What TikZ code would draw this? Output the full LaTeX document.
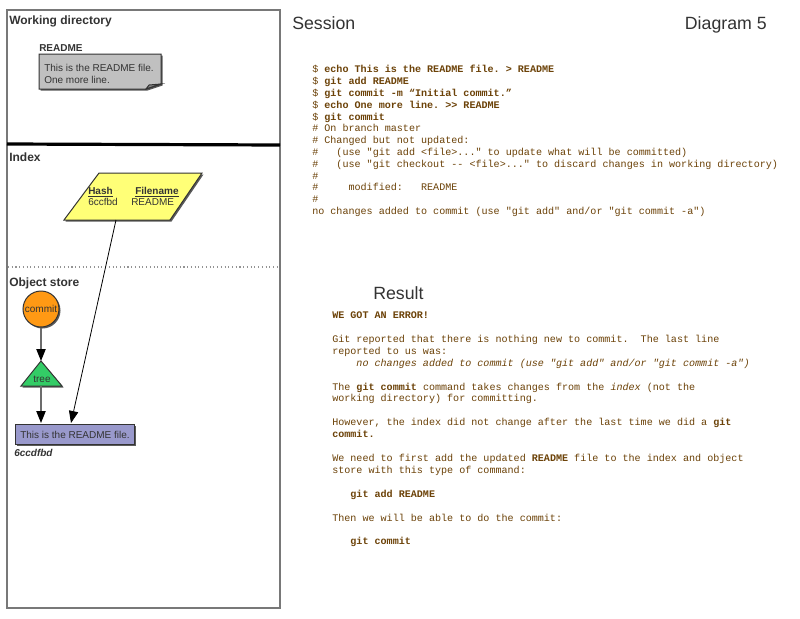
\documentclass[tikz,border=0pt]{standalone}
\usepackage{fontspec}
\setmainfont{Liberation Sans}
\setmonofont{Liberation Mono}
\usetikzlibrary{arrows.meta}
\definecolor{brn}{RGB}{108,66,8}
\definecolor{lbl}{RGB}{51,51,51}
\definecolor{panelgray}{RGB}{120,120,120}
\definecolor{notefill}{RGB}{192,192,192}
\definecolor{idxfill}{RGB}{255,255,119}
\definecolor{comfill}{RGB}{255,153,20}
\definecolor{treefill}{RGB}{51,204,102}
\definecolor{blobfill}{RGB}{153,153,204}
\definecolor{shadowgray}{RGB}{90,90,90}
\frenchspacing
\begin{document}
\begin{tikzpicture}[x=0.75pt,y=-0.75pt,
  hdr/.style={font=\fontsize{9}{11}\selectfont\bfseries, text=lbl, inner sep=0pt, anchor=base west},
  small/.style={font=\fontsize{7.5}{9}\selectfont, text=lbl, inner sep=0pt},
  title/.style={font=\fontsize{13.3}{16}\selectfont, text=lbl, inner sep=0pt},
  mono/.style={font=\fontsize{7.56}{8.87}\selectfont\ttfamily, text=brn, inner sep=0pt, align=left, anchor=north west},
  outl/.style={draw=lbl, line width=0.75pt},
  arr/.style={-{Triangle[length=9pt,width=7pt,color=black]}, line width=0.9pt}
]
\useasboundingbox (0,0) rectangle (800,618);
\fill[white] (0,0) rectangle (800,618);

% left panel
\draw[panelgray, line width=1.5pt] (7,10) rectangle (280,608);
\draw[black, line width=2.4pt] (7,144) -- (280,145);
\draw[panelgray!80, dotted, line width=0.8pt] (8,267) -- (279,267);

\node[hdr] (wdlabel) at (9,24) {Working directory};
\node[hdr] (idxlabel) at (9,161) {Index};
\node[hdr] (oslabel) at (9,286) {Object store};

% README note
\node[small, font=\fontsize{7.5}{9}\selectfont\bfseries, anchor=base west] (notelabel) at (39,51.5) {README};
\fill[shadowgray] (40.5,55.5) -- (162.5,55.5) -- (162.5,85.5) -- (147.5,90.5) -- (40.5,90.5) -- cycle;
\draw[outl, fill=notefill] (39,54) -- (161,54) -- (161,84) -- (146,89) -- (39,89) -- cycle;
\draw[outl, fill=notefill!70!black] (146,89) -- (149,85) -- (161,84) -- cycle;
\node[small, anchor=base west] (note1) at (44,71.5) {This is the README file.};
\node[small, anchor=base west] (note2) at (44,83) {One more line.};

% index parallelogram
\fill[shadowgray] (100.5,174.5) -- (203.5,174.5) -- (171.5,221.5) -- (65.5,221.5) -- cycle;
\draw[outl, fill=idxfill] (99,173) -- (202,173) -- (170,220) -- (64,220) -- cycle;
\coordinate (idxbot) at (116,220);
\node[small, font=\fontsize{7.5}{9}\selectfont\bfseries, anchor=base west] (hash) at (88,194.5) {\underline{Hash}};
\node[small, font=\fontsize{7.5}{9}\selectfont\bfseries, anchor=base west] (fname) at (135,194.5) {\underline{Filename}};
\node[small, anchor=base west] (hashv) at (88,205.5) {6ccfbd};
\node[small, anchor=base west] (fnamev) at (131,205.5) {README};

% commit circle
\fill[shadowgray] (42.5,310.5) circle (18);
\node[circle, outl, fill=comfill, minimum size=27pt, inner sep=0pt, small] (commit) at (41,309) {commit};

% tree triangle
\fill[shadowgray] (42.5,362.5) -- (63.5,387.5) -- (22.5,387.5) -- cycle;
\draw[outl, fill=treefill] (41,361) -- (62,386) -- (21,386) -- cycle;
\coordinate (treetop) at (41,361);
\coordinate (treebot) at (41,386);
\node[small] (tree) at (42,379.5) {tree};

% blob
\fill[shadowgray] (16.5,425.5) rectangle (135.5,445.5);
\node[outl, fill=blobfill, minimum width=89.25pt, minimum height=15pt, inner sep=0pt, anchor=north west, small, text=lbl] (blob) at (15,424) {This is the README file.};
\coordinate (blobtip) at (71,423);
\coordinate (blobtop) at (41,423);
\node[small, font=\fontsize{7.5}{9}\selectfont\bfseries\itshape, anchor=base west] (blobhash) at (14,456.5) {6ccdfbd};

% connectors
\draw[arr, draw=panelgray!90!black] (commit.south) -- (treetop);
\draw[arr, draw=panelgray!90!black] (treebot) -- (blobtop);
\draw[-{Triangle[length=9pt,width=7pt]}, line width=0.6pt, black] (idxbot) -- (blobtip);

% titles
\node[title, anchor=base west] (session) at (292,29.5) {Session};
\node[title, anchor=base east] (diag) at (767,29.5) {Diagram 5};
\node[title, anchor=base west] (result) at (373,299.5) {Result};

% session text
\node[mono] (sess) at (312,65) {%
\$ \textbf{echo This is the README file. > README}\\
\$ \textbf{git add README}\\
\$ \textbf{git commit -m “Initial commit.”}\\
\$ \textbf{echo One more line. >> README}\\
\$ \textbf{git commit}\\
\# On branch master\\
\# Changed but not updated:\\
\#~~~(use "git add <file>..." to update what will be committed)\\
\#~~~(use "git checkout -- <file>..." to discard changes in working directory)\\
\#\\
\#~~~~~modified:~~~README\\
\#\\
no changes added to commit (use "git add" and/or "git commit -a")};

% result text
\node[mono, font=\fontsize{7.56}{8.94}\selectfont\ttfamily] (res) at (332,311.5) {%
\textbf{WE GOT AN ERROR!}\\
\mbox{}\\
Git reported that there is nothing new to commit.~~The last line\\
reported to us was:\\
~~~~\textit{no changes added to commit (use "git add" and/or "git commit -a")}\\
\mbox{}\\
The \textbf{git commit} command takes changes from the \textit{index} (not the\\
working directory) for committing.\\
\mbox{}\\
However, the index did not change after the last time we did a \textbf{git}\\
\textbf{commit.}\\
\mbox{}\\
We need to first add the updated \textbf{README} file to the index and object\\
store with this type of command:\\
\mbox{}\\
~~~\textbf{git add README}\\
\mbox{}\\
Then we will be able to do the commit:\\
\mbox{}\\
~~~\textbf{git commit}};
\end{tikzpicture}
\end{document}
